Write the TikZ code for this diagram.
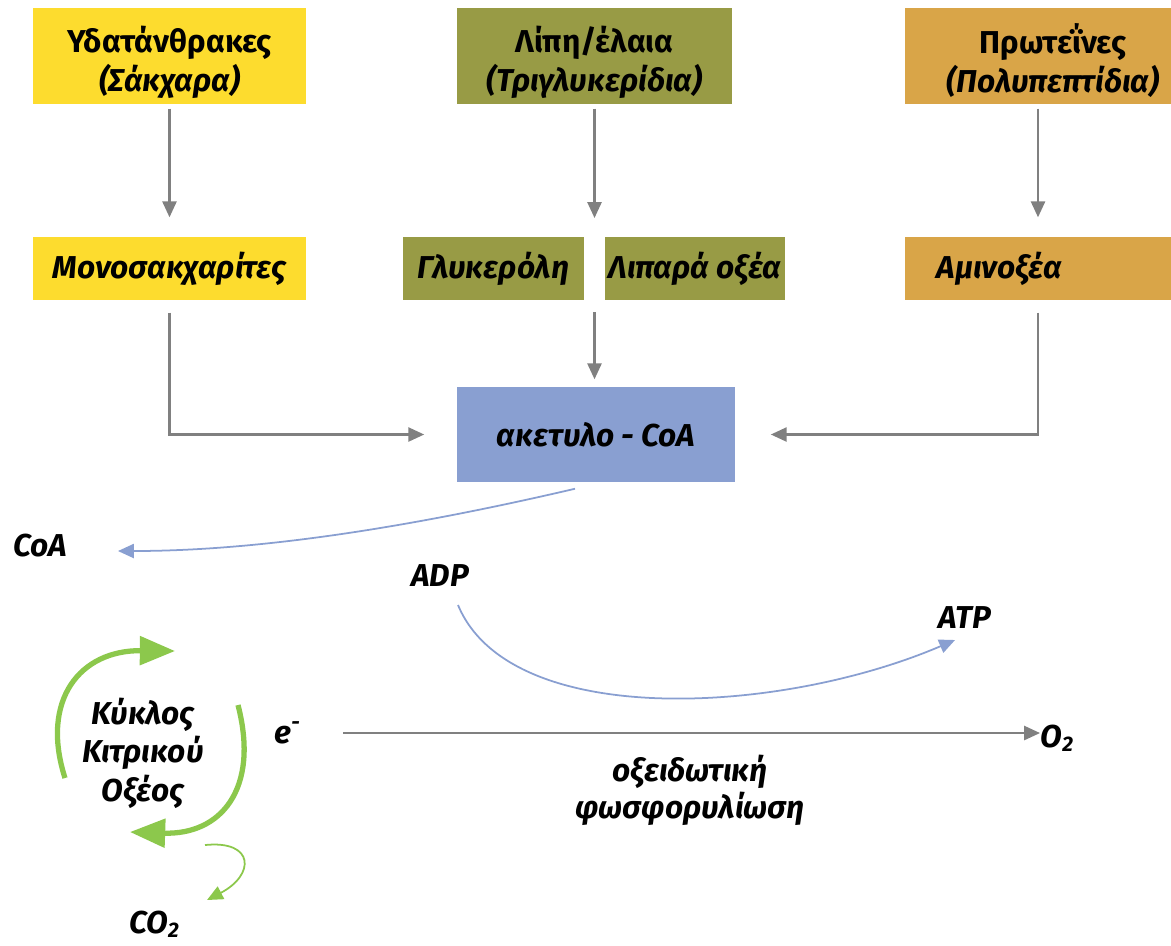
\documentclass[tikz,border=0pt]{standalone}
\usepackage{fontspec}
\setmainfont{Fira Sans}
\usetikzlibrary{arrows.meta}

\definecolor{carbcol}{HTML}{FDDC2E}
\definecolor{lipcol}{HTML}{989B45}
\definecolor{protcol}{HTML}{D9A548}
\definecolor{acoacol}{HTML}{899FD1}
\definecolor{cyclecol}{HTML}{8CC84C}
\definecolor{arrowgray}{HTML}{808080}

\tikzset{
  bigbox/.style={fill=#1, minimum height=0.96cm, inner sep=0pt, align=center,
    font=\fontsize{9}{10}\selectfont\bfseries},
  smallbox/.style={fill=#1, minimum height=0.63cm, inner sep=0pt,
    font=\fontsize{9}{10}\selectfont\bfseries\itshape},
  lbl/.style={inner sep=0pt, align=center, font=\fontsize{9}{10}\selectfont\bfseries\itshape},
  garrow/.style={draw=arrowgray, line width=0.6pt, -{Triangle[length=4.5pt,width=4pt]}},
  barrow/.style={draw=acoacol, line width=0.5pt, -{Triangle[length=4.5pt,width=4pt]}},
  cycarrow/.style={draw=cyclecol, line width=1.5pt, -{Triangle[length=10pt,width=8pt]}},
  thinarrow/.style={draw=cyclecol, line width=0.5pt, -{Triangle[length=4.5pt,width=4pt]}}
}

\begin{document}
\begin{tikzpicture}[x=0.01cm, y=-0.01cm]
  \useasboundingbox (0,0) rectangle (1171,945);

  % pigi trofis
  \node[bigbox=carbcol, minimum width=2.73cm] (carb) at (169.5,56) {\rule{0pt}{11pt}Υδατάνθρακες\\[1pt]{\itshape (Σάκχαρα)}};
  \node[bigbox=lipcol, minimum width=2.75cm] (lipid) at (594.5,56) {\rule{0pt}{11pt}Λίπη/έλαια\\[1pt]{\itshape (Τριγλυκερίδια)}};
  \node[bigbox=protcol, minimum width=2.66cm] (prot) at (1038,56) {\rule{0pt}{11pt}\hspace{0.3cm}Πρωτεΐνες\\[1pt]\hspace{0.3cm}{\itshape (Πολυπεπτίδια)}};

  % monades
  \node[smallbox=carbcol, minimum width=2.73cm] (mono) at (169.5,268.5) {Μονοσακχαρίτες};
  \node[smallbox=lipcol, minimum width=1.81cm] (glyc) at (493.5,268.5) {Γλυκερόλη};
  \node[smallbox=lipcol, minimum width=1.80cm] (fatty) at (695,268.5) {Λιπαρά οξέα};
  \node[smallbox=protcol, minimum width=2.66cm, text width=2.02cm, align=left, inner xsep=0.32cm] (amino) at (1038,268.5) {Αμινοξέα};
  \coordinate (gtop) at (594.5,237);
  \coordinate (gbot) at (594.5,300);

  \node[bigbox=acoacol, minimum width=2.78cm, minimum height=0.95cm, font=\fontsize{9}{10}\selectfont\bfseries\itshape] (acoa) at (596,434.5) {ακετυλο - CoA};

  \draw[garrow, shorten <=0.04cm, shorten >=0.19cm] (carb.south) -- (mono.north);
  \draw[garrow, shorten <=0.04cm, shorten >=0.19cm] (lipid.south) -- (gtop);
  \draw[garrow, shorten <=0.04cm, shorten >=0.19cm] (prot.south) -- (amino.north);
  \draw[garrow, shorten <=0.12cm, shorten >=0.07cm] (gbot) -- (gbot |- acoa.north);
  \draw[garrow, shorten <=0.12cm, shorten >=0.32cm] (mono.south) |- (acoa.west);
  \draw[garrow, shorten <=0.12cm, shorten >=0.35cm] (amino.south) |- (acoa.east);

  % kato meros
  \node[lbl] (coa) at (40,546) {CoA};
  \node[lbl] (adp) at (440,576) {ADP};
  \node[lbl] (atp) at (965,618) {ATP};
  \node[lbl] (cycle) at (143,753) {Κύκλος\\[1pt]Κιτρικού\\[1pt]Οξέος};
  \node[lbl] (co2) at (155,924) {CO\textsubscript{2}};
  \node[lbl] (elec) at (288,733) {e\textsuperscript{-}};
  \node[lbl, anchor=west] (otwo) at (1040,738) {O\textsubscript{2}};
  \node[lbl, align=center, font=\fontsize{9}{9.5}\selectfont\bfseries\itshape] (oxph) at (690,790) {οξειδωτική\\φωσφορυλίωση};

  \draw[barrow] ([shift={(-21,6)}]acoa.south) .. controls +(-150,35) and +(150,0) .. ([shift={(78,5)}]coa.center);
  \draw[barrow] ([shift={(18,29)}]adp.center) .. controls +(52,125) and +(-175,75) .. ([shift={(-10,22)}]atp.center);
  \draw[garrow, shorten <=0.55cm] (elec.center) -- (elec.center -| otwo.west);

  \draw[cycarrow] ([shift={(-78,25)}]cycle.center) .. controls +(-25,-78) and +(-95,-1) .. ([shift={(32,-102)}]cycle.center);
  \draw[cycarrow] ([shift={(95,-48)}]cycle.center) .. controls +(22,85) and +(90,3) .. ([shift={(-13,79)}]cycle.center);
  \draw[thinarrow] ([shift={(62,92)}]cycle.center) .. controls +(50,-5) and +(48,-25) .. ([shift={(52,-24)}]co2.center);
\end{tikzpicture}
\end{document}
